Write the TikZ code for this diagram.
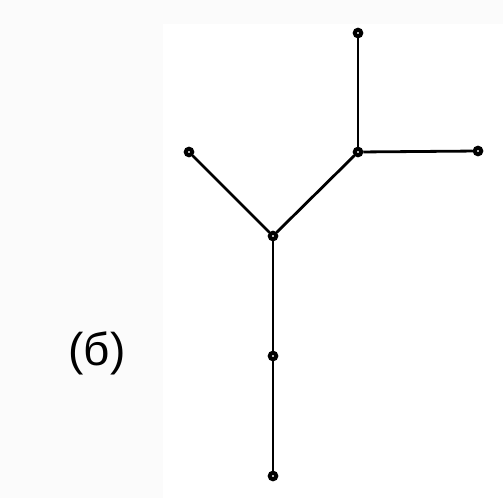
\documentclass[tikz,border=0pt]{standalone}
\usepackage{fontspec}
\setmainfont{Liberation Sans}
\usepackage{tikz}
\usetikzlibrary{calc,positioning}

\begin{document}
\begin{tikzpicture}[x=1pt,y=-1pt]
            % Frame and shaded background
            \useasboundingbox (0,0) rectangle (503,498);
            \fill[black!1.5] (0,0) rectangle (163,498);
            \fill[black!1.5] (163,0) rectangle (503,24);
            \tikzset{vert/.style={circle, draw=black, fill=white, line width=4pt,
                inner sep=0pt, minimum size=6.5pt},
              edge/.style={line width=2.8pt}}
            % Define points
            \node[vert] (top)   at (358, 33)  {};
            \node[vert] (junc)  at (358, 152) {};
            \node[vert] (right) at (478, 151) {};
            \node[vert] (left)  at (189, 152) {};
            \node[vert] (cen)   at (273, 236) {};
            \node[vert] (mid)   at (273, 356) {};
            \node[vert] (bot)   at (273, 476) {};
            % Edges of the tree
            \draw[edge] (top) -- (junc);
            \draw[edge] (junc) -- (right);
            \draw[edge] (junc) -- (cen);
            \draw[edge] (left) -- (cen);
            \draw[edge] (cen) -- (mid);
            \draw[edge] (mid) -- (bot);
            % Label
            \node (lbl) at (97, 353) {\fontsize{46}{54}\selectfont (б)};
          \end{tikzpicture}
\end{document}
